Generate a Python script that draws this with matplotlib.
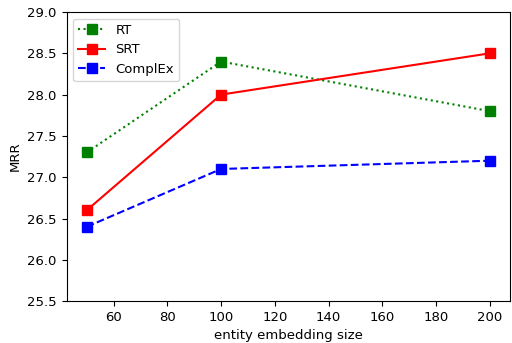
import matplotlib
matplotlib.use("Agg")
import matplotlib.pyplot as plt

plt.rcParams["font.size"] = 9.5

# 数据
sizes = [50, 100, 200]
rt = [27.3, 28.4, 27.8]
srt = [26.6, 28.0, 28.5]
complex_ = [26.4, 27.1, 27.2]

fig, ax = plt.subplots(figsize=(5.12, 3.43), dpi=100)
ax.plot(sizes, rt, color="green", linestyle=":", marker="s", markersize=6.5, label="RT")
ax.plot(sizes, srt, color="red", linestyle="-", marker="s", markersize=6.5, label="SRT")
ax.plot(sizes, complex_, color="blue", linestyle="--", marker="s", markersize=6.5, label="ComplEx")

ax.set_ylim(25.5, 29.0)
ax.set_xticks([60, 80, 100, 120, 140, 160, 180, 200])
ax.set_xlabel("entity embedding size")
ax.set_ylabel("MRR")
ax.legend(loc="upper left")

fig.subplots_adjust(left=0.130, right=0.996, top=0.965, bottom=0.122)
plt.savefig("out.png", dpi=100)
plt.close()
